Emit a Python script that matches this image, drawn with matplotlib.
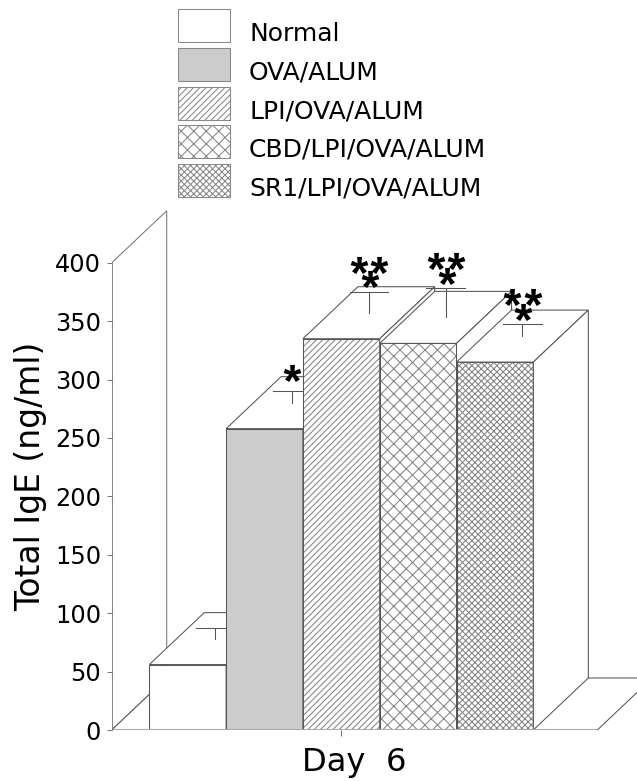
import matplotlib
matplotlib.use('Agg')
from matplotlib import pyplot as plt
from matplotlib.patches import Polygon, Patch, Rectangle
from matplotlib.legend_handler import HandlerPatch

# data
groups = ['Normal', 'OVA/ALUM', 'LPI/OVA/ALUM', 'CBD/LPI/OVA/ALUM', 'SR1/LPI/OVA/ALUM']
igE = [56, 258, 335, 331, 315]          # ng/ml
sem = [9, 10, 18, 25, 10]               # error bar up
stars = [0, 1, 3, 3, 3]                 # number of asterisks
yticks = [0, 50, 100, 150, 200, 250, 300, 350, 400]
day = 'Day  6'

fills = ['white', '#cccccc', 'white', 'white', 'white']
hatches = [None, None, '////', 'xx', 'xxxx']
edge = '#555555'
hatchcol = '#858585'
axcol = '#777777'

plt.rcParams['mathtext.fontset'] = 'custom'
plt.rcParams['mathtext.bf'] = 'Liberation Sans:bold'
plt.rcParams['mathtext.rm'] = 'Liberation Sans'
plt.rcParams['hatch.linewidth'] = 1.0

DPI = 75
W, H = 637, 781
fig = plt.figure(figsize=(W / DPI, H / DPI), dpi=DPI)
left_px, bottom_px = 111.7, 51
ax = fig.add_axes([left_px / W, bottom_px / H, (W - left_px) / W, (H - bottom_px) / H])
xmin, xmax = -0.99, 5.85
ymin, ymax = 0, 625
ax.set_xlim(xmin, xmax)
ax.set_ylim(ymin, ymax)
pxx = (W - left_px) / (xmax - xmin)   # pixels per x unit
pxy = (H - bottom_px) / (ymax - ymin)  # pixels per y unit

# 3d depth offset
DX = 55 / pxx
DY = 52 / pxy
x0 = xmin
x1 = len(groups) - 0.5 + 64 / pxx
ytop = yticks[-1]

# left wall and floor
ax.add_patch(Polygon([(x0, 0), (x0, ytop), (x0 + DX, ytop + DY), (x0 + DX, DY)],
                     facecolor='white', edgecolor=axcol, lw=1, zorder=1))
ax.add_patch(Polygon([(x0, 0), (x1, 0), (x1 + DX, DY), (x0 + DX, DY)],
                     facecolor='white', edgecolor=edge, lw=1, zorder=2))
ax.plot([x0, x1], [0, 0], color='#aaaaaa', lw=2, zorder=60, solid_capstyle='butt')

for i, v in enumerate(igE):
    l, r = i - 0.5, i + 0.5
    z = 10 + 3 * i
    front = [(l, 0), (r, 0), (r, v), (l, v)]
    ax.add_patch(Polygon(front, facecolor=fills[i], hatch=hatches[i],
                         edgecolor=hatchcol, lw=0, zorder=z))
    ax.add_patch(Polygon(front, facecolor='none', edgecolor=edge, lw=1, zorder=z))
    ax.add_patch(Polygon([(l, v), (r, v), (r + DX, v + DY), (l + DX, v + DY)],
                         facecolor='white', edgecolor=edge, lw=1, zorder=z))
    ax.add_patch(Polygon([(r, 0), (r + DX, DY), (r + DX, v + DY), (r, v)],
                         facecolor='white', edgecolor=edge, lw=1, zorder=z))
    # error bar from the middle of the top face
    cx, cy = i + DX / 2, v + DY / 2
    ax.plot([cx, cx], [cy, cy + sem[i]], color=edge, lw=1, zorder=z + 1)
    ax.plot([cx - 0.25, cx + 0.25], [cy + sem[i]] * 2, color=edge, lw=1, zorder=z + 1)
    cap = cy + sem[i]
    if stars[i] == 1:
        spots = [(0, 18)]
    elif stars[i] == 3:
        spots = [(-10, 27), (10.5, 27), (1, 12.5)]
    else:
        spots = []
    for sx, sy in spots:
        ax.plot(cx + sx / pxx, cap + sy / pxy, marker=r'$\mathbf{*}$', ms=17,
                color='black', mew=0, zorder=100)

# axes
for s in ['top', 'right', 'bottom']:
    ax.spines[s].set_visible(False)
ax.spines['left'].set_bounds(0, ytop)
ax.spines['left'].set_color(axcol)
ax.spines['left'].set_zorder(70)
ax.set_yticks(yticks)
ax.tick_params(axis='y', direction='out', length=4.8, width=1, color=axcol,
               labelsize=23, pad=5.5)
ax.set_xticks([2], [''])
ax.tick_params(axis='x', direction='out', length=5.5, width=1, color=axcol)

ax.set_ylabel('Total IgE (ng/ml)', fontsize=31.5)
ax.yaxis.set_label_coords(-0.1536, 0.348)
ax.yaxis.label.set_va('center')
ax.set_xlabel(day, fontsize=31)
ax.xaxis.set_label_coords(0.461, -0.056)
ax.xaxis.label.set_va('baseline')


# legend boxes sit a little higher than their labels
def raised_box(legend, orig_handle, xdescent, ydescent, width, height, fontsize):
    return Rectangle((-xdescent, -ydescent + 6.7), width, height)


handles = [Patch(facecolor=fills[i], hatch=hatches[i], edgecolor='#888888', lw=1)
           for i in range(len(groups))]
ax.legend(handles, groups, loc='upper left', bbox_to_anchor=(178 / W, 1 - 16 / H),
          bbox_transform=fig.transFigure, frameon=False, fontsize=24,
          handlelength=2.08, handleheight=1.654, labelspacing=0.23,
          handletextpad=0.76, borderpad=0, borderaxespad=0,
          handler_map={Patch: HandlerPatch(patch_func=raised_box)})

fig.savefig('out.png', dpi=DPI)
